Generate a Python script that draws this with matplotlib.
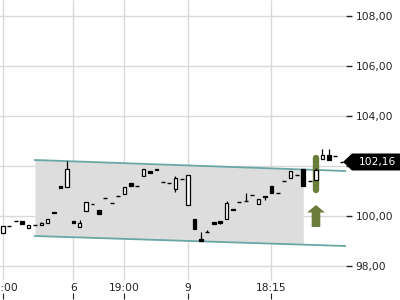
import matplotlib
matplotlib.use("Agg")
import matplotlib.pyplot as plt
import matplotlib.transforms as mtransforms
from matplotlib.patches import Polygon, FancyArrow
import numpy as np

# ---- data ----
opens = [99.32, 99.60, 99.80, 99.80, 99.52, 99.64, 99.64, 99.72, 100.16, 101.20,
         101.16, 99.78, 99.56, 100.20, 100.48, 100.24, 100.72, 100.52, 100.80, 100.88,
         101.32, 101.20, 101.60, 101.80, 101.88, 101.36, 101.32, 101.08, 101.48, 100.44,
         99.88, 99.08, 99.36, 99.76, 99.80, 99.88, 100.26, 100.56, 100.60, 100.84,
         100.48, 100.80, 101.20, 100.92, 101.40, 101.52, 101.64, 101.88, 101.40, 101.44,
         102.28, 102.44, 102.40, 102.16]
closes = [99.60, 99.60, 99.80, 99.68, 99.64, 99.64, 99.72, 99.88, 100.12, 101.12,
          101.88, 99.74, 99.72, 100.56, 100.48, 100.08, 100.72, 100.52, 100.80, 101.16,
          101.20, 101.20, 101.88, 101.72, 101.84, 101.36, 101.32, 101.52, 101.48, 101.64,
          99.48, 99.00, 99.36, 99.68, 99.72, 100.52, 100.22, 100.56, 100.60, 100.84,
          100.68, 100.76, 100.92, 100.92, 101.40, 101.80, 101.64, 101.20, 101.40, 101.84,
          102.44, 102.24, 102.40, 102.16]
highs = [99.60, 99.60, 99.80, 99.80, 99.64, 99.64, 99.76, 99.88, 100.16, 101.20,
         102.20, 99.78, 99.84, 100.56, 100.48, 100.24, 100.72, 100.52, 100.80, 101.16,
         101.32, 101.20, 101.88, 101.80, 101.88, 101.36, 101.32, 101.60, 101.48, 101.64,
         99.88, 99.36, 99.44, 99.76, 99.80, 100.60, 100.26, 100.56, 100.92, 100.84,
         100.68, 100.80, 101.20, 100.92, 101.40, 101.80, 101.64, 101.88, 101.40, 101.92,
         102.68, 102.68, 102.40, 102.16]
lows = [99.32, 99.60, 99.80, 99.68, 99.52, 99.64, 99.64, 99.72, 100.12, 101.12,
        101.16, 99.74, 99.56, 100.20, 100.48, 100.08, 100.72, 100.52, 100.80, 100.88,
        101.20, 101.20, 101.60, 101.72, 101.84, 101.36, 101.32, 100.96, 101.48, 100.44,
        99.48, 99.00, 99.36, 99.68, 99.68, 99.88, 100.22, 100.56, 100.60, 100.84,
        100.48, 100.64, 100.92, 100.92, 101.40, 101.52, 101.64, 101.20, 101.40, 101.44,
        102.28, 102.24, 102.40, 102.16]

x_tick_idx = [0, 11, 19, 29, 42]
x_tick_labels = ["15:00", "6", "19:00", "9", "18:15"]
y_ticks = [98, 100, 102, 104, 106, 108]
y_tick_labels = ["98,00", "100,00", "", "104,00", "106,00", "108,00"]

channel_x = [5.0, 53.6]
channel_upper = [102.24, 101.80]
channel_lower = [99.20, 98.80]
shade_end = 47.0

signal_idx = 49
signal_low, signal_high = 100.92, 102.44
arrow_base, arrow_top = 99.56, 100.44
last_price = 102.16
last_label = "102,16"

# ---- figure ----
fig = plt.figure(figsize=(4, 3), dpi=100)
ax = fig.add_axes([0, 7 / 300, 346 / 400, 293 / 300])
n = len(opens)
x = np.arange(n)
ax.set_xlim(-0.47, 53.7)
ax.set_ylim(96.92, 108.64)
for s in ax.spines.values():
    s.set_visible(False)

grid_c = "#d9d9d9"
for yv in y_ticks:
    ax.axhline(yv, color=grid_c, lw=1, zorder=0)
ax.vlines(x_tick_idx, 97.44, 108.64, color=grid_c, lw=1, zorder=0)

# channel
cx = np.array(channel_x)
cu = np.array(channel_upper)
cl = np.array(channel_lower)
xs = np.linspace(cx[0], shade_end, 50)
ax.fill_between(xs, np.interp(xs, cx, cl), np.interp(xs, cx, cu),
                color="#dddddd", lw=0, zorder=1)
ax.plot(cx, cu, color="#6aa6a6", lw=1.3, zorder=2)
ax.plot(cx, cl, color="#6aa6a6", lw=1.3, zorder=2)

# signal highlight
ax.plot([signal_idx, signal_idx], [signal_low + 0.12, signal_high - 0.12],
        color="#6b7d3b", lw=4.6, solid_capstyle="round", zorder=3)
ax.add_patch(FancyArrow(signal_idx, arrow_base, 0, arrow_top - arrow_base,
                        width=1.35, head_width=2.8, head_length=0.3,
                        length_includes_head=True, color="#6b7d3b", lw=0, zorder=3))

# candles
o = np.array(opens); c = np.array(closes); h = np.array(highs); l = np.array(lows)
ax.vlines(x, l, h, color="black", lw=0.9, zorder=4)
flat = np.isclose(o, c)
up = (c > o) & ~flat
down = (c < o) & ~flat
ax.bar(x[up], (c - o)[up], bottom=o[up], width=0.55, facecolor="white",
       edgecolor="black", lw=0.9, zorder=5)
ax.bar(x[down], (o - c)[down], bottom=c[down], width=0.55, facecolor="black",
       edgecolor="black", lw=0.9, zorder=5)
ax.hlines(o[flat], x[flat] - 0.3, x[flat] + 0.3, color="black", lw=1.0, zorder=5)

# y ticks on right
ax.yaxis.tick_right()
ax.set_yticks(y_ticks)
ax.set_yticklabels(y_tick_labels)
ax.tick_params(axis="y", length=4, width=1, pad=3, labelsize=7.7,
               colors="#222222", direction="out")

# x ticks
ax.set_xticks(x_tick_idx)
ax.set_xticklabels([])
ax.tick_params(axis="x", length=4, width=0.8, colors="#222222", direction="out")
tb = mtransforms.blended_transform_factory(ax.transData, fig.transFigure)
for xi, lab in zip(x_tick_idx, x_tick_labels):
    ax.text(xi, 1 - 288 / 300, lab, transform=tb, ha="center", va="center",
            fontsize=7.7, color="#222222", clip_on=False)

# last price marker
tm = mtransforms.blended_transform_factory(fig.transFigure, ax.transData)
hh = 0.34
poly = Polygon([(343 / 400, last_price), (352 / 400, last_price + hh),
                (1.0, last_price + hh), (1.0, last_price - hh),
                (352 / 400, last_price - hh)], closed=True,
               transform=tm, facecolor="black", edgecolor="none",
               clip_on=False, zorder=10)
ax.add_patch(poly)
ax.text(377 / 400, last_price, last_label, transform=tm, ha="center", va="center",
        color="white", fontsize=7.7, zorder=11, clip_on=False)

fig.savefig("out.png", dpi=100)
